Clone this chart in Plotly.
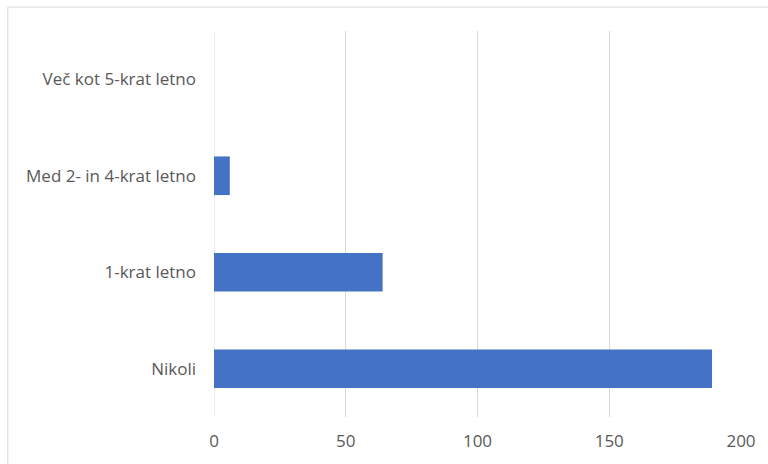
import plotly.graph_objects as go

# Survey answers (bottom to top) and respondent counts
categories = ["Nikoli", "1-krat letno", "Med 2- in 4-krat letno", "Več kot 5-krat letno"]
counts = [189, 64, 6, 0]
x_ticks = [0, 50, 100, 150, 200]

fig = go.Figure(
    go.Bar(
        x=counts,
        y=categories,
        orientation="h",
        marker=dict(color="#4472C4", line=dict(width=0)),
    )
)

fig.update_layout(
    width=768,
    height=464,
    margin=dict(l=214, r=25, t=31, b=46),
    paper_bgcolor="white",
    plot_bgcolor="white",
    bargap=0.6,
    showlegend=False,
    font=dict(family="Open Sans, sans-serif", size=17, color="#595959"),
    xaxis=dict(
        range=[0, 200],
        tickvals=x_ticks,
        showgrid=True,
        gridcolor="#d9d9d9",
        gridwidth=1,
        zeroline=False,
        showline=False,
        ticks="",
        ticklabelstandoff=12,
        tickfont=dict(size=17, color="#595959"),
    ),
    yaxis=dict(
        showgrid=False,
        zeroline=False,
        showline=False,
        ticks="",
        ticklabelstandoff=17,
        tickfont=dict(size=17, color="#595959"),
    ),
    shapes=[
        # thin frame around the chart area
        dict(
            type="rect",
            xref="paper",
            yref="paper",
            x0=(7 - 214) / 529,
            x1=1.2,
            y0=-0.3,
            y1=(418 - 7) / 387,
            line=dict(color="#d9d9d9", width=1),
            fillcolor="rgba(0,0,0,0)",
            layer="below",
        ),
        # vertical line at zero, drawn in grid colour
        dict(
            type="line",
            xref="x",
            yref="paper",
            x0=0,
            x1=0,
            y0=0,
            y1=1,
            line=dict(color="#d9d9d9", width=1),
            layer="below",
        ),
    ],
)

fig.write_html("out.html")
